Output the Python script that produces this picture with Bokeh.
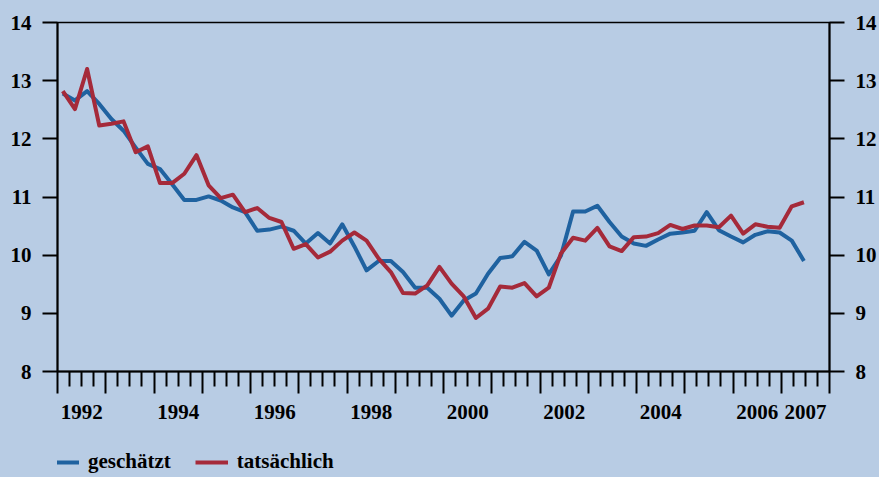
from bokeh.plotting import figure
from bokeh.layouts import column
from bokeh.models import LinearAxis, FixedTicker, Range1d, Legend, LegendItem
from bokeh.embed import file_html
from bokeh.resources import INLINE

# ---- data (quarterly, 1992Q1 .. 2007Q2) ----
quarters = [f"{y}Q{q}" for y in range(1992, 2008) for q in range(1, 5)][:62]

geschaetzt = [12.78, 12.66, 12.82, 12.60, 12.34, 12.14, 11.85, 11.57, 11.48, 11.22,
              10.95, 10.95, 11.01, 10.94, 10.82, 10.74, 10.42, 10.44, 10.49, 10.42,
              10.20, 10.38, 10.20, 10.53, 10.15, 9.74, 9.90, 9.90, 9.71, 9.44,
              9.44, 9.25, 8.96, 9.22, 9.34, 9.68, 9.95, 9.98, 10.23, 10.08,
              9.67, 9.99, 10.75, 10.75, 10.85, 10.57, 10.32, 10.20, 10.16, 10.27,
              10.37, 10.39, 10.42, 10.74, 10.43, 10.32, 10.22, 10.35, 10.41, 10.39,
              10.25, 9.90]

tatsaechlich = [12.82, 12.51, 13.20, 12.23, 12.26, 12.30, 11.77, 11.87, 11.24, 11.24,
                11.40, 11.72, 11.20, 10.98, 11.04, 10.74, 10.81, 10.64, 10.57, 10.11,
                10.19, 9.96, 10.06, 10.25, 10.39, 10.25, 9.94, 9.71, 9.35, 9.34,
                9.48, 9.80, 9.51, 9.29, 8.92, 9.08, 9.46, 9.44, 9.52, 9.29,
                9.44, 10.03, 10.30, 10.25, 10.47, 10.15, 10.07, 10.31, 10.32, 10.38,
                10.52, 10.45, 10.51, 10.51, 10.48, 10.68, 10.37, 10.53, 10.49, 10.47,
                10.84, 10.91]

series_names = ["geschätzt", "tatsächlich"]
y_ticks = [8, 9, 10, 11, 12, 13, 14]
year_bounds = list(range(1992, 2009))
label_years = [1992, 1994, 1996, 1998, 2000, 2002, 2004, 2006, 2007]


def qpos(label):
    y, q = label.split("Q")
    idx = (int(y) - 1992) * 4 + int(q) - 1
    return 1992.11 + idx * 0.2518


x = [qpos(q) for q in quarters]

BG = "#b8cce4"
BLUE = "#1f62a0"
RED = "#a52a3a"
FONT = "Liberation Serif"

p = figure(width=879, height=450, x_range=Range1d(1992, 2008), y_range=Range1d(8, 14),
           output_backend="svg", toolbar_location=None,
           x_axis_location=None, y_axis_location=None,
           min_border_left=57, min_border_right=50, min_border_top=22, min_border_bottom=79,
           background_fill_color=BG, border_fill_color=BG,
           outline_line_color="black", outline_line_width=1.5)
p.xgrid.visible = False
p.ygrid.visible = False

p.line(x, geschaetzt, line_color=BLUE, line_width=4, line_join="round")
p.line(x, tatsaechlich, line_color=RED, line_width=4, line_join="round")


def yaxis():
    return LinearAxis(ticker=FixedTicker(ticks=y_ticks, minor_ticks=[]),
                      major_tick_out=15, major_tick_in=0, minor_tick_out=0,
                      major_label_standoff=11,
                      major_label_text_font=FONT, major_label_text_font_style="bold",
                      major_label_text_font_size="21px", major_label_text_color="black",
                      axis_line_width=2, major_tick_line_width=2)


p.add_layout(yaxis(), "left")
p.add_layout(yaxis(), "right")

minor = [b + k * 0.25 for b in year_bounds[:-1] for k in range(1, 4)]
xa = LinearAxis(ticker=FixedTicker(ticks=year_bounds, minor_ticks=minor),
                major_tick_out=22, major_tick_in=0, minor_tick_out=15, minor_tick_in=0,
                major_label_text_font_size="0px", major_label_standoff=0,
                major_label_overrides={t: "" for t in year_bounds},
                axis_line_width=2, major_tick_line_width=2, minor_tick_line_width=2)
p.add_layout(xa, "below")

label_pos = [yv + 0.5 for yv in label_years]
xb = LinearAxis(ticker=FixedTicker(ticks=label_pos, minor_ticks=[]),
                major_label_overrides={yv + 0.5: str(yv) for yv in label_years},
                axis_line_color=None, major_tick_line_color=None, minor_tick_line_color=None,
                major_tick_out=0, major_tick_in=0, minor_tick_out=0, minor_tick_in=0,
                major_label_standoff=11,
                major_label_text_font=FONT, major_label_text_font_style="bold",
                major_label_text_font_size="21px", major_label_text_color="black")
p.add_layout(xb, "below")

# ---- legend strip ----
lg = figure(width=879, height=27, x_range=Range1d(0, 1), y_range=Range1d(0, 1),
            output_backend="svg", toolbar_location=None,
            x_axis_location=None, y_axis_location=None,
            min_border_left=57, min_border_right=50, min_border_top=0, min_border_bottom=0,
            background_fill_color=BG, border_fill_color=BG, border_fill_alpha=1.0,
            outline_line_color=None, styles={"background-color": BG})
lg.xgrid.visible = False
lg.ygrid.visible = False
d1 = lg.line([5, 6], [5, 5], line_color=BLUE, line_width=4)
d2 = lg.line([5, 6], [5, 5], line_color=RED, line_width=4)

legend = Legend(items=[LegendItem(label=series_names[0], renderers=[d1]),
                       LegendItem(label=series_names[1], renderers=[d2])],
                location=(-11, 3), orientation="horizontal",
                background_fill_alpha=0, border_line_color=None,
                padding=0, margin=0, spacing=24, glyph_width=33, glyph_height=20,
                label_standoff=9, label_text_font=FONT, label_text_font_style="bold",
                label_text_font_size="21px", label_text_color="black")
lg.add_layout(legend, "center")

layout = column(p, lg, spacing=0, styles={"background-color": BG})
open("out.html", "w").write(file_html(layout, INLINE))
